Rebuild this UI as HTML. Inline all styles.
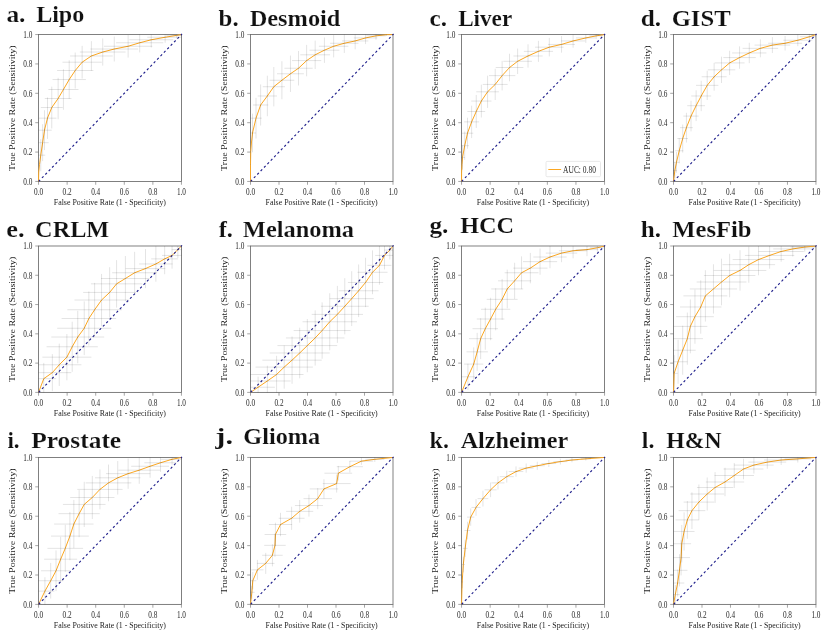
<!DOCTYPE html>
<html><head><meta charset="utf-8"><title>ROC curves</title>
<style>
html,body{margin:0;padding:0;background:#fff;overflow:hidden;}
svg{display:block;will-change:transform;}
text{font-family:"Liberation Serif",serif;}
.tk{font-size:9.90px;fill:#2a2a2a;}
.lb{font-size:8.80px;fill:#222222;}
.ti{font-size:22.60px;font-weight:bold;fill:#111111;stroke:#fff;stroke-width:0.15px;}
</style></head><body>
<svg width="830" height="640" viewBox="0 0 830 640">
<rect x="0" y="0" width="830" height="640" fill="#ffffff"/>
<g>
<text class="ti" x="6.4" y="22" textLength="19.08" lengthAdjust="spacingAndGlyphs">a.</text>
<text class="ti" x="36.17" y="22" textLength="48.12" lengthAdjust="spacingAndGlyphs">Lipo</text>
<clipPath id="cp0"><rect x="38.55" y="34.55" width="142.9" height="146.9"/></clipPath>
<clipPath id="cq0"><rect x="38.1" y="34.1" width="143.8" height="147.8"/></clipPath>
<rect x="38.55" y="34.55" width="142.9" height="146.9" fill="none" stroke="#6a6a6a" stroke-width="0.85"/>
<polyline clip-path="url(#cq0)" points="38.55,181.45 38.74,172.06 39.5,164.42 40.77,155.18 42.62,142.69 44.47,130.2 47.48,118.17 51.75,107.54 58.11,98.52 63.43,89.5 69.2,79.56 75.21,70.54 82.15,62.21 91.39,55.97 102.72,52.04 114.28,49.03 128.14,46.26 139.7,42.79 151.26,39.78 165.13,37.24 176.68,35.39 181.45,34.55" fill="none" stroke="#fba722" stroke-width="1.0" stroke-linejoin="round" stroke-linecap="round"/>
<path d="M38.55 181.45L182.01 33.98" stroke="#20208c" stroke-width="1.15" stroke-dasharray="2.3 2.558" fill="none"/>
<g clip-path="url(#cp0)" stroke="#000" stroke-opacity="0.125" stroke-width="0.9" fill="none"><path d="M36.31 155.18H45.24"/><path d="M40.77 139.13V171.22"/><path d="M36.57 142.69H48.68"/><path d="M42.62 124.24V161.14"/><path d="M37.16 130.2H51.78"/><path d="M44.47 110.25V150.15"/><path d="M38.49 118.17H56.47"/><path d="M47.48 97.44V138.91"/><path d="M40.8 107.54H62.71"/><path d="M51.75 86.6V128.47"/><path d="M44.75 98.52H71.46"/><path d="M58.11 77.76V119.28"/><path d="M48.37 89.5H78.48"/><path d="M63.43 69.24V109.76"/><path d="M52.53 79.56H85.88"/><path d="M69.2 60.26V98.86"/><path d="M57.05 70.54H93.38"/><path d="M75.21 52.53V88.54"/><path d="M62.49 62.21H101.81"/><path d="M82.15 45.84V78.58"/><path d="M70.07 55.97H112.72"/><path d="M91.39 41.19V70.74"/><path d="M79.84 52.04H125.6"/><path d="M102.72 38.48V65.6"/><path d="M90.4 49.03H138.15"/><path d="M114.28 36.55V61.51"/><path d="M103.93 46.26H152.35"/><path d="M128.14 34.92V57.59"/><path d="M116.1 42.79H163.31"/><path d="M139.7 33.16V52.42"/><path d="M129.31 39.78H173.2"/><path d="M151.26 32.02V47.54"/><path d="M147.32 37.24H182.93"/><path d="M165.13 31.63V42.85"/><path d="M166.3 35.39H187.07"/><path d="M176.68 32.24V38.54"/></g>
<text class="tk" x="38.55" y="195.05" text-anchor="middle" textLength="9.1" lengthAdjust="spacingAndGlyphs">0.0</text><text class="tk" x="32.45" y="184.8" text-anchor="end" textLength="9.1" lengthAdjust="spacingAndGlyphs">0.0</text>
<text class="tk" x="67.13" y="195.05" text-anchor="middle" textLength="9.1" lengthAdjust="spacingAndGlyphs">0.2</text><text class="tk" x="32.45" y="155.42" text-anchor="end" textLength="9.1" lengthAdjust="spacingAndGlyphs">0.2</text>
<text class="tk" x="95.71" y="195.05" text-anchor="middle" textLength="9.1" lengthAdjust="spacingAndGlyphs">0.4</text><text class="tk" x="32.45" y="126.04" text-anchor="end" textLength="9.1" lengthAdjust="spacingAndGlyphs">0.4</text>
<text class="tk" x="124.29" y="195.05" text-anchor="middle" textLength="9.1" lengthAdjust="spacingAndGlyphs">0.6</text><text class="tk" x="32.45" y="96.66" text-anchor="end" textLength="9.1" lengthAdjust="spacingAndGlyphs">0.6</text>
<text class="tk" x="152.87" y="195.05" text-anchor="middle" textLength="9.1" lengthAdjust="spacingAndGlyphs">0.8</text><text class="tk" x="32.45" y="67.28" text-anchor="end" textLength="9.1" lengthAdjust="spacingAndGlyphs">0.8</text>
<text class="tk" x="181.45" y="195.05" text-anchor="middle" textLength="9.1" lengthAdjust="spacingAndGlyphs">1.0</text><text class="tk" x="32.45" y="37.9" text-anchor="end" textLength="9.1" lengthAdjust="spacingAndGlyphs">1.0</text>
<path d="M38.55 181.45v3.3M38.55 181.45h-3.3M67.13 181.45v3.3M38.55 152.07h-3.3M95.71 181.45v3.3M38.55 122.69h-3.3M124.29 181.45v3.3M38.55 93.31h-3.3M152.87 181.45v3.3M38.55 63.93h-3.3M181.45 181.45v3.3M38.55 34.55h-3.3" stroke="#6a6a6a" stroke-width="0.6" fill="none"/>
<text class="lb" x="109.9" y="204.65" text-anchor="middle" textLength="112.2" lengthAdjust="spacingAndGlyphs">False Positive Rate (1 - Specificity)</text>
<text class="lb" style="font-size:8.3px" transform="translate(14.95 108.15) rotate(-90)" text-anchor="middle" textLength="125.5" lengthAdjust="spacingAndGlyphs">True Positive Rate (Sensitivity)</text>
</g>
<g>
<text class="ti" x="218.6" y="26" textLength="20.02" lengthAdjust="spacingAndGlyphs">b.</text>
<text class="ti" x="249.71" y="26" textLength="90.74" lengthAdjust="spacingAndGlyphs">Desmoid</text>
<clipPath id="cp1"><rect x="250.5" y="34.55" width="142.5" height="146.9"/></clipPath>
<clipPath id="cq1"><rect x="250.05" y="34.1" width="143.4" height="147.8"/></clipPath>
<rect x="250.5" y="34.55" width="142.5" height="146.9" fill="none" stroke="#6a6a6a" stroke-width="0.85"/>
<polyline clip-path="url(#cq1)" points="250.5,181.45 250.51,164.42 250.74,151.47 251.5,141.99 252.5,132.97 256.01,118.17 260.63,104.99 267.34,95.97 273.81,86.72 281.9,80.25 290.45,73.78 298.54,68.22 306.63,60.59 315.18,54.81 324.43,50.19 333.67,46.26 344.3,43.25 355.17,40.94 365.57,37.93 375.97,35.85 386.37,34.69 393,34.55" fill="none" stroke="#fba722" stroke-width="1.0" stroke-linejoin="round" stroke-linecap="round"/>
<path d="M250.5 181.45L393.56 33.98" stroke="#20208c" stroke-width="1.15" stroke-dasharray="2.3 2.551" fill="none"/>
<g clip-path="url(#cp1)" stroke="#000" stroke-opacity="0.125" stroke-width="0.9" fill="none"><path d="M248.98 132.97H256.01"/><path d="M252.5 113.63V152.32"/><path d="M250.24 118.17H261.78"/><path d="M256.01 97.81V138.54"/><path d="M252.94 104.99H268.32"/><path d="M260.63 84.44V125.54"/><path d="M257.68 95.97H276.99"/><path d="M267.34 75.69V116.26"/><path d="M262.74 86.72H284.88"/><path d="M273.81 67.04V106.41"/><path d="M269.49 80.25H294.3"/><path d="M281.9 61.21V99.29"/><path d="M277.01 73.78H303.89"/><path d="M290.45 55.58V91.97"/><path d="M284.39 68.22H312.69"/><path d="M298.54 50.94V85.51"/><path d="M292.01 60.59H321.25"/><path d="M306.63 44.88V76.3"/><path d="M300.28 54.81H330.08"/><path d="M315.18 40.63V69"/><path d="M309.48 50.19H339.38"/><path d="M324.43 37.5V62.87"/><path d="M318.92 46.26H348.42"/><path d="M333.67 35.12V57.4"/><path d="M330.11 43.25H358.5"/><path d="M344.3 33.54V52.96"/><path d="M341.95 40.94H368.38"/><path d="M355.17 32.55V49.33"/><path d="M353.77 37.93H377.37"/><path d="M365.57 31.76V44.1"/><path d="M366.26 35.85H385.68"/><path d="M375.97 32V39.7"/><path d="M380.07 34.69H392.67"/><path d="M386.37 33.41V35.98"/></g>
<text class="tk" x="250.5" y="195.05" text-anchor="middle" textLength="9.1" lengthAdjust="spacingAndGlyphs">0.0</text><text class="tk" x="244.4" y="184.8" text-anchor="end" textLength="9.1" lengthAdjust="spacingAndGlyphs">0.0</text>
<text class="tk" x="279" y="195.05" text-anchor="middle" textLength="9.1" lengthAdjust="spacingAndGlyphs">0.2</text><text class="tk" x="244.4" y="155.42" text-anchor="end" textLength="9.1" lengthAdjust="spacingAndGlyphs">0.2</text>
<text class="tk" x="307.5" y="195.05" text-anchor="middle" textLength="9.1" lengthAdjust="spacingAndGlyphs">0.4</text><text class="tk" x="244.4" y="126.04" text-anchor="end" textLength="9.1" lengthAdjust="spacingAndGlyphs">0.4</text>
<text class="tk" x="336" y="195.05" text-anchor="middle" textLength="9.1" lengthAdjust="spacingAndGlyphs">0.6</text><text class="tk" x="244.4" y="96.66" text-anchor="end" textLength="9.1" lengthAdjust="spacingAndGlyphs">0.6</text>
<text class="tk" x="364.5" y="195.05" text-anchor="middle" textLength="9.1" lengthAdjust="spacingAndGlyphs">0.8</text><text class="tk" x="244.4" y="67.28" text-anchor="end" textLength="9.1" lengthAdjust="spacingAndGlyphs">0.8</text>
<text class="tk" x="393" y="195.05" text-anchor="middle" textLength="9.1" lengthAdjust="spacingAndGlyphs">1.0</text><text class="tk" x="244.4" y="37.9" text-anchor="end" textLength="9.1" lengthAdjust="spacingAndGlyphs">1.0</text>
<path d="M250.5 181.45v3.3M250.5 181.45h-3.3M279 181.45v3.3M250.5 152.07h-3.3M307.5 181.45v3.3M250.5 122.69h-3.3M336 181.45v3.3M250.5 93.31h-3.3M364.5 181.45v3.3M250.5 63.93h-3.3M393 181.45v3.3M250.5 34.55h-3.3" stroke="#6a6a6a" stroke-width="0.6" fill="none"/>
<text class="lb" x="321.65" y="204.65" text-anchor="middle" textLength="112.2" lengthAdjust="spacingAndGlyphs">False Positive Rate (1 - Specificity)</text>
<text class="lb" style="font-size:8.3px" transform="translate(226.9 108.15) rotate(-90)" text-anchor="middle" textLength="125.5" lengthAdjust="spacingAndGlyphs">True Positive Rate (Sensitivity)</text>
</g>
<g>
<text class="ti" x="429.5" y="26" textLength="17.55" lengthAdjust="spacingAndGlyphs">c.</text>
<text class="ti" x="458.17" y="26" textLength="54.03" lengthAdjust="spacingAndGlyphs">Liver</text>
<clipPath id="cp2"><rect x="461.55" y="34.55" width="143" height="146.9"/></clipPath>
<clipPath id="cq2"><rect x="461.1" y="34.1" width="143.9" height="147.8"/></clipPath>
<rect x="461.55" y="34.55" width="143" height="146.9" fill="none" stroke="#6a6a6a" stroke-width="0.85"/>
<polyline clip-path="url(#cq2)" points="461.55,181.45 461.6,172.06 461.99,164.42 462.5,157.49 464.7,145.69 467.47,133.21 471.63,121.88 476.26,111.47 481.34,101.06 487.58,91.81 495.21,84.41 502.14,75.62 509.54,67.53 517.63,61.29 528.03,55.97 538.43,51.34 549.3,47.18 561.55,44.41 573.1,40.94 585.82,37.93 596.22,35.85 604.55,34.55" fill="none" stroke="#fba722" stroke-width="1.0" stroke-linejoin="round" stroke-linecap="round"/>
<path d="M461.55 181.45L605.11 33.98" stroke="#20208c" stroke-width="1.15" stroke-dasharray="2.3 2.560" fill="none"/>
<g clip-path="url(#cp2)" stroke="#000" stroke-opacity="0.125" stroke-width="0.9" fill="none"><path d="M460.12 157.49H464.89"/><path d="M462.5 145.28V169.7"/><path d="M460.4 145.69H469"/><path d="M464.7 131.51V159.88"/><path d="M461.63 133.21H473.31"/><path d="M467.47 117.68V148.73"/><path d="M464.13 121.88H479.14"/><path d="M471.63 105.65V138.1"/><path d="M467.35 111.47H485.16"/><path d="M476.26 94.96V127.98"/><path d="M471.22 101.06H491.46"/><path d="M481.34 84.61V117.51"/><path d="M476.27 91.81H498.89"/><path d="M487.58 75.69V107.93"/><path d="M482.77 84.41H507.65"/><path d="M495.21 68.76V100.06"/><path d="M488.93 75.62H515.36"/><path d="M502.14 60.79V90.46"/><path d="M495.7 67.53H523.38"/><path d="M509.54 53.74V81.32"/><path d="M503.32 61.29H531.94"/><path d="M517.63 48.53V74.04"/><path d="M513.41 55.97H542.65"/><path d="M528.03 44.3V67.63"/><path d="M523.82 51.34H553.05"/><path d="M538.43 40.83V61.86"/><path d="M535.02 47.18H563.57"/><path d="M549.3 37.92V56.45"/><path d="M548.1 44.41H574.99"/><path d="M561.55 36.14V52.68"/><path d="M560.96 40.94H585.24"/><path d="M573.1 34.2V47.68"/><path d="M575.92 37.93H595.71"/><path d="M585.82 32.97V42.89"/><path d="M589.35 35.85H603.08"/><path d="M596.22 32.75V38.95"/></g>
<rect x="546.0" y="161.4" width="54.5" height="15.3" rx="1.1" ry="1.1" fill="#fff" fill-opacity="0.8" stroke="#e2e2e2" stroke-width="0.8"/>
<path d="M548.3 169.5H561.1" stroke="#fba722" stroke-width="1.0"/>
<text class="tk" x="563.1" y="172.6" textLength="32.8" lengthAdjust="spacingAndGlyphs">AUC: 0.80</text>
<text class="tk" x="461.55" y="195.05" text-anchor="middle" textLength="9.1" lengthAdjust="spacingAndGlyphs">0.0</text><text class="tk" x="455.45" y="184.8" text-anchor="end" textLength="9.1" lengthAdjust="spacingAndGlyphs">0.0</text>
<text class="tk" x="490.15" y="195.05" text-anchor="middle" textLength="9.1" lengthAdjust="spacingAndGlyphs">0.2</text><text class="tk" x="455.45" y="155.42" text-anchor="end" textLength="9.1" lengthAdjust="spacingAndGlyphs">0.2</text>
<text class="tk" x="518.75" y="195.05" text-anchor="middle" textLength="9.1" lengthAdjust="spacingAndGlyphs">0.4</text><text class="tk" x="455.45" y="126.04" text-anchor="end" textLength="9.1" lengthAdjust="spacingAndGlyphs">0.4</text>
<text class="tk" x="547.35" y="195.05" text-anchor="middle" textLength="9.1" lengthAdjust="spacingAndGlyphs">0.6</text><text class="tk" x="455.45" y="96.66" text-anchor="end" textLength="9.1" lengthAdjust="spacingAndGlyphs">0.6</text>
<text class="tk" x="575.95" y="195.05" text-anchor="middle" textLength="9.1" lengthAdjust="spacingAndGlyphs">0.8</text><text class="tk" x="455.45" y="67.28" text-anchor="end" textLength="9.1" lengthAdjust="spacingAndGlyphs">0.8</text>
<text class="tk" x="604.55" y="195.05" text-anchor="middle" textLength="9.1" lengthAdjust="spacingAndGlyphs">1.0</text><text class="tk" x="455.45" y="37.9" text-anchor="end" textLength="9.1" lengthAdjust="spacingAndGlyphs">1.0</text>
<path d="M461.55 181.45v3.3M461.55 181.45h-3.3M490.15 181.45v3.3M461.55 152.07h-3.3M518.75 181.45v3.3M461.55 122.69h-3.3M547.35 181.45v3.3M461.55 93.31h-3.3M575.95 181.45v3.3M461.55 63.93h-3.3M604.55 181.45v3.3M461.55 34.55h-3.3" stroke="#6a6a6a" stroke-width="0.6" fill="none"/>
<text class="lb" x="532.95" y="204.65" text-anchor="middle" textLength="112.2" lengthAdjust="spacingAndGlyphs">False Positive Rate (1 - Specificity)</text>
<text class="lb" style="font-size:8.3px" transform="translate(437.95 108.15) rotate(-90)" text-anchor="middle" textLength="125.5" lengthAdjust="spacingAndGlyphs">True Positive Rate (Sensitivity)</text>
</g>
<g>
<text class="ti" x="640.78" y="26" textLength="20.41" lengthAdjust="spacingAndGlyphs">d.</text>
<text class="ti" x="671.68" y="26" textLength="59" lengthAdjust="spacingAndGlyphs">GIST</text>
<clipPath id="cp3"><rect x="673.5" y="34.55" width="142.45" height="146.9"/></clipPath>
<clipPath id="cq3"><rect x="673.05" y="34.1" width="143.35" height="147.8"/></clipPath>
<rect x="673.5" y="34.55" width="142.45" height="146.9" fill="none" stroke="#6a6a6a" stroke-width="0.85"/>
<polyline clip-path="url(#cq3)" points="673.5,181.45 674.85,170.44 676.47,162.34 679.24,150.78 682.71,138.52 686.41,127.66 691.03,116.09 696.11,105.69 701.2,95.97 707.21,85.34 714.14,76.78 721.54,69.84 729.63,62.91 739.57,57.59 749.28,52.96 760.37,48.34 772.39,45.1 785.1,43.25 797.82,40.24 809.37,36.77 815.95,34.55" fill="none" stroke="#fba722" stroke-width="1.0" stroke-linejoin="round" stroke-linecap="round"/>
<path d="M673.5 181.45L816.51 33.98" stroke="#20208c" stroke-width="1.15" stroke-dasharray="2.3 2.551" fill="none"/>
<g clip-path="url(#cp3)" stroke="#000" stroke-opacity="0.125" stroke-width="0.9" fill="none"><path d="M672.89 170.44H676.81"/><path d="M674.85 162.31V178.56"/><path d="M673.54 162.34H679.4"/><path d="M676.47 151.97V172.72"/><path d="M675.1 150.78H683.38"/><path d="M679.24 138.24V163.32"/><path d="M677.37 138.52H688.04"/><path d="M682.71 124.5V152.55"/><path d="M679.98 127.66H692.83"/><path d="M686.41 112.79V142.52"/><path d="M683.38 116.09H698.67"/><path d="M691.03 100.76V131.42"/><path d="M687.26 105.69H704.97"/><path d="M696.11 90.27V121.1"/><path d="M691.22 95.97H711.17"/><path d="M701.2 80.76V111.19"/><path d="M696.01 85.34H718.41"/><path d="M707.21 70.67V100.01"/><path d="M701.65 76.78H726.64"/><path d="M714.14 62.82V90.74"/><path d="M707.8 69.84H735.28"/><path d="M721.54 56.66V83.02"/><path d="M714.67 62.91H744.59"/><path d="M729.63 50.73V75.08"/><path d="M723.36 57.59H755.77"/><path d="M739.57 46.37V68.81"/><path d="M732.14 52.96H766.41"/><path d="M749.28 42.75V63.18"/><path d="M742.59 48.34H778.15"/><path d="M760.37 39.34V57.33"/><path d="M754.54 45.1H790.24"/><path d="M772.39 37.14V53.06"/><path d="M768.15 43.25H802.05"/><path d="M785.1 35.97V50.53"/><path d="M783.3 40.24H812.34"/><path d="M797.82 34.29V46.2"/><path d="M799.77 36.77H818.98"/><path d="M809.37 33.01V40.54"/></g>
<text class="tk" x="673.5" y="195.05" text-anchor="middle" textLength="9.1" lengthAdjust="spacingAndGlyphs">0.0</text><text class="tk" x="667.4" y="184.8" text-anchor="end" textLength="9.1" lengthAdjust="spacingAndGlyphs">0.0</text>
<text class="tk" x="701.99" y="195.05" text-anchor="middle" textLength="9.1" lengthAdjust="spacingAndGlyphs">0.2</text><text class="tk" x="667.4" y="155.42" text-anchor="end" textLength="9.1" lengthAdjust="spacingAndGlyphs">0.2</text>
<text class="tk" x="730.48" y="195.05" text-anchor="middle" textLength="9.1" lengthAdjust="spacingAndGlyphs">0.4</text><text class="tk" x="667.4" y="126.04" text-anchor="end" textLength="9.1" lengthAdjust="spacingAndGlyphs">0.4</text>
<text class="tk" x="758.97" y="195.05" text-anchor="middle" textLength="9.1" lengthAdjust="spacingAndGlyphs">0.6</text><text class="tk" x="667.4" y="96.66" text-anchor="end" textLength="9.1" lengthAdjust="spacingAndGlyphs">0.6</text>
<text class="tk" x="787.46" y="195.05" text-anchor="middle" textLength="9.1" lengthAdjust="spacingAndGlyphs">0.8</text><text class="tk" x="667.4" y="67.28" text-anchor="end" textLength="9.1" lengthAdjust="spacingAndGlyphs">0.8</text>
<text class="tk" x="815.95" y="195.05" text-anchor="middle" textLength="9.1" lengthAdjust="spacingAndGlyphs">1.0</text><text class="tk" x="667.4" y="37.9" text-anchor="end" textLength="9.1" lengthAdjust="spacingAndGlyphs">1.0</text>
<path d="M673.5 181.45v3.3M673.5 181.45h-3.3M701.99 181.45v3.3M673.5 152.07h-3.3M730.48 181.45v3.3M673.5 122.69h-3.3M758.97 181.45v3.3M673.5 93.31h-3.3M787.46 181.45v3.3M673.5 63.93h-3.3M815.95 181.45v3.3M673.5 34.55h-3.3" stroke="#6a6a6a" stroke-width="0.6" fill="none"/>
<text class="lb" x="744.62" y="204.65" text-anchor="middle" textLength="112.2" lengthAdjust="spacingAndGlyphs">False Positive Rate (1 - Specificity)</text>
<text class="lb" style="font-size:8.3px" transform="translate(649.9 108.15) rotate(-90)" text-anchor="middle" textLength="125.5" lengthAdjust="spacingAndGlyphs">True Positive Rate (Sensitivity)</text>
</g>
<g>
<text class="ti" x="6.22" y="237" textLength="18.31" lengthAdjust="spacingAndGlyphs">e.</text>
<text class="ti" x="35.14" y="237" textLength="74.08" lengthAdjust="spacingAndGlyphs">CRLM</text>
<clipPath id="cp4"><rect x="38.55" y="246" width="142.9" height="146.4"/></clipPath>
<clipPath id="cq4"><rect x="38.1" y="245.55" width="143.8" height="147.3"/></clipPath>
<rect x="38.55" y="246" width="142.9" height="146.4" fill="none" stroke="#6a6a6a" stroke-width="0.85"/>
<polyline clip-path="url(#cq4)" points="38.55,392.4 43.78,378.66 52.33,372.65 59.26,364.79 66.89,357.16 72.21,346.75 77.76,337.04 84.23,328.25 88.85,318.54 94.63,309.75 101.56,300.04 109.65,292.41 116.59,283.85 125.37,278.53 134.62,272.75 145.48,268.59 155.88,263.96 164.66,258.88 172.06,255.41 177.84,249.62 181.45,246" fill="none" stroke="#fba722" stroke-width="1.0" stroke-linejoin="round" stroke-linecap="round"/>
<path d="M38.55 392.4L182.01 245.43" stroke="#20208c" stroke-width="1.15" stroke-dasharray="2.3 2.550" fill="none"/>
<g clip-path="url(#cp4)" stroke="#000" stroke-opacity="0.125" stroke-width="0.9" fill="none"><path d="M31.37 378.66H56.19"/><path d="M43.78 362.87V394.46"/><path d="M33.32 372.65H71.34"/><path d="M52.33 354.15V391.15"/><path d="M37.08 364.79H81.45"/><path d="M59.26 343.6V385.98"/><path d="M42.37 357.16H91.41"/><path d="M66.89 334V380.31"/><path d="M46.57 346.75H97.85"/><path d="M72.21 321.66V371.84"/><path d="M51.29 337.04H104.22"/><path d="M77.76 310.77V363.31"/><path d="M57.17 328.25H111.29"/><path d="M84.23 301.37V355.13"/><path d="M61.58 318.54H116.12"/><path d="M88.85 291.45V345.62"/><path d="M67.31 309.75H121.95"/><path d="M94.63 282.89V336.61"/><path d="M74.47 300.04H128.65"/><path d="M101.56 273.9V326.18"/><path d="M83.18 292.41H136.12"/><path d="M109.65 267.2V317.61"/><path d="M90.92 283.85H142.26"/><path d="M116.59 260.13V307.57"/><path d="M101.05 278.53H149.69"/><path d="M125.37 256.01V301.05"/><path d="M112.11 272.75H157.12"/><path d="M134.62 251.82V293.68"/><path d="M125.61 268.59H165.35"/><path d="M145.48 249.02V288.15"/><path d="M139.13 263.96H172.63"/><path d="M155.88 246.19V281.73"/><path d="M151.16 258.88H178.17"/><path d="M164.66 243.53V274.22"/><path d="M162.04 255.41H182.09"/><path d="M172.06 242.12V268.69"/><path d="M171.67 249.62H184.01"/><path d="M177.84 241.21V258.04"/></g>
<text class="tk" x="38.55" y="406" text-anchor="middle" textLength="9.1" lengthAdjust="spacingAndGlyphs">0.0</text><text class="tk" x="32.45" y="395.75" text-anchor="end" textLength="9.1" lengthAdjust="spacingAndGlyphs">0.0</text>
<text class="tk" x="67.13" y="406" text-anchor="middle" textLength="9.1" lengthAdjust="spacingAndGlyphs">0.2</text><text class="tk" x="32.45" y="366.47" text-anchor="end" textLength="9.1" lengthAdjust="spacingAndGlyphs">0.2</text>
<text class="tk" x="95.71" y="406" text-anchor="middle" textLength="9.1" lengthAdjust="spacingAndGlyphs">0.4</text><text class="tk" x="32.45" y="337.19" text-anchor="end" textLength="9.1" lengthAdjust="spacingAndGlyphs">0.4</text>
<text class="tk" x="124.29" y="406" text-anchor="middle" textLength="9.1" lengthAdjust="spacingAndGlyphs">0.6</text><text class="tk" x="32.45" y="307.91" text-anchor="end" textLength="9.1" lengthAdjust="spacingAndGlyphs">0.6</text>
<text class="tk" x="152.87" y="406" text-anchor="middle" textLength="9.1" lengthAdjust="spacingAndGlyphs">0.8</text><text class="tk" x="32.45" y="278.63" text-anchor="end" textLength="9.1" lengthAdjust="spacingAndGlyphs">0.8</text>
<text class="tk" x="181.45" y="406" text-anchor="middle" textLength="9.1" lengthAdjust="spacingAndGlyphs">1.0</text><text class="tk" x="32.45" y="249.35" text-anchor="end" textLength="9.1" lengthAdjust="spacingAndGlyphs">1.0</text>
<path d="M38.55 392.4v3.3M38.55 392.4h-3.3M67.13 392.4v3.3M38.55 363.12h-3.3M95.71 392.4v3.3M38.55 333.84h-3.3M124.29 392.4v3.3M38.55 304.56h-3.3M152.87 392.4v3.3M38.55 275.28h-3.3M181.45 392.4v3.3M38.55 246h-3.3" stroke="#6a6a6a" stroke-width="0.6" fill="none"/>
<text class="lb" x="109.9" y="415.6" text-anchor="middle" textLength="112.2" lengthAdjust="spacingAndGlyphs">False Positive Rate (1 - Specificity)</text>
<text class="lb" style="font-size:8.3px" transform="translate(14.95 319.35) rotate(-90)" text-anchor="middle" textLength="125.5" lengthAdjust="spacingAndGlyphs">True Positive Rate (Sensitivity)</text>
</g>
<g>
<text class="ti" x="218.73" y="237" textLength="14.19" lengthAdjust="spacingAndGlyphs">f.</text>
<text class="ti" x="242.89" y="237" textLength="111.2" lengthAdjust="spacingAndGlyphs">Melanoma</text>
<clipPath id="cp5"><rect x="250.5" y="246" width="142.5" height="146.4"/></clipPath>
<clipPath id="cq5"><rect x="250.05" y="245.55" width="143.4" height="147.3"/></clipPath>
<rect x="250.5" y="246" width="142.5" height="146.4" fill="none" stroke="#6a6a6a" stroke-width="0.85"/>
<polyline clip-path="url(#cq5)" points="250.5,392.4 258.09,387.22 267.34,380.98 276.58,374.5 284.21,367.1 292.07,360.16 299.7,352.99 307.32,345.59 315.18,337.96 322.12,330.56 329.74,321.77 337.37,314.38 344.77,306.28 351.7,298.65 358.64,290.79 365.57,282.46 372.5,272.29 379.44,265.35 384.52,255.41 389.84,250.09 393,246" fill="none" stroke="#fba722" stroke-width="1.0" stroke-linejoin="round" stroke-linecap="round"/>
<path d="M250.5 392.4L393.56 245.43" stroke="#20208c" stroke-width="1.15" stroke-dasharray="2.3 2.543" fill="none"/>
<g clip-path="url(#cp5)" stroke="#000" stroke-opacity="0.125" stroke-width="0.9" fill="none"><path d="M241.29 387.22H274.89"/><path d="M258.09 376.67V397.77"/><path d="M244.02 380.98H290.65"/><path d="M267.34 365.66V396.29"/><path d="M249.65 374.5H303.51"/><path d="M276.58 355.8V393.2"/><path d="M255.52 367.1H312.9"/><path d="M284.21 345.51V388.69"/><path d="M262.38 360.16H321.75"/><path d="M292.07 336.5V383.82"/><path d="M269.66 352.99H329.73"/><path d="M299.7 327.67V378.32"/><path d="M277.44 345.59H337.21"/><path d="M307.32 318.97V372.22"/><path d="M285.89 337.96H344.48"/><path d="M315.18 310.37V365.56"/><path d="M293.67 330.56H350.56"/><path d="M322.12 302.36V358.76"/><path d="M302.54 321.77H356.95"/><path d="M329.74 293.24V350.31"/><path d="M311.7 314.38H363.04"/><path d="M337.37 285.89V342.86"/><path d="M320.85 306.28H368.69"/><path d="M344.77 278.18V334.38"/><path d="M329.65 298.65H373.76"/><path d="M351.7 271.25V326.05"/><path d="M338.67 290.79H378.6"/><path d="M358.64 264.48V317.1"/><path d="M347.93 282.46H383.21"/><path d="M365.57 257.77V307.15"/><path d="M357.49 272.29H387.52"/><path d="M372.5 250.37V294.2"/><path d="M367.45 265.35H391.42"/><path d="M379.44 246.01V284.69"/><path d="M375.2 255.41H393.85"/><path d="M384.52 241.41V269.41"/><path d="M384.25 250.09H395.43"/><path d="M389.84 240.68V259.49"/></g>
<text class="tk" x="250.5" y="406" text-anchor="middle" textLength="9.1" lengthAdjust="spacingAndGlyphs">0.0</text><text class="tk" x="244.4" y="395.75" text-anchor="end" textLength="9.1" lengthAdjust="spacingAndGlyphs">0.0</text>
<text class="tk" x="279" y="406" text-anchor="middle" textLength="9.1" lengthAdjust="spacingAndGlyphs">0.2</text><text class="tk" x="244.4" y="366.47" text-anchor="end" textLength="9.1" lengthAdjust="spacingAndGlyphs">0.2</text>
<text class="tk" x="307.5" y="406" text-anchor="middle" textLength="9.1" lengthAdjust="spacingAndGlyphs">0.4</text><text class="tk" x="244.4" y="337.19" text-anchor="end" textLength="9.1" lengthAdjust="spacingAndGlyphs">0.4</text>
<text class="tk" x="336" y="406" text-anchor="middle" textLength="9.1" lengthAdjust="spacingAndGlyphs">0.6</text><text class="tk" x="244.4" y="307.91" text-anchor="end" textLength="9.1" lengthAdjust="spacingAndGlyphs">0.6</text>
<text class="tk" x="364.5" y="406" text-anchor="middle" textLength="9.1" lengthAdjust="spacingAndGlyphs">0.8</text><text class="tk" x="244.4" y="278.63" text-anchor="end" textLength="9.1" lengthAdjust="spacingAndGlyphs">0.8</text>
<text class="tk" x="393" y="406" text-anchor="middle" textLength="9.1" lengthAdjust="spacingAndGlyphs">1.0</text><text class="tk" x="244.4" y="249.35" text-anchor="end" textLength="9.1" lengthAdjust="spacingAndGlyphs">1.0</text>
<path d="M250.5 392.4v3.3M250.5 392.4h-3.3M279 392.4v3.3M250.5 363.12h-3.3M307.5 392.4v3.3M250.5 333.84h-3.3M336 392.4v3.3M250.5 304.56h-3.3M364.5 392.4v3.3M250.5 275.28h-3.3M393 392.4v3.3M250.5 246h-3.3" stroke="#6a6a6a" stroke-width="0.6" fill="none"/>
<text class="lb" x="321.65" y="415.6" text-anchor="middle" textLength="112.2" lengthAdjust="spacingAndGlyphs">False Positive Rate (1 - Specificity)</text>
<text class="lb" style="font-size:8.3px" transform="translate(226.9 319.35) rotate(-90)" text-anchor="middle" textLength="125.5" lengthAdjust="spacingAndGlyphs">True Positive Rate (Sensitivity)</text>
</g>
<g>
<text class="ti" x="429.43" y="233" textLength="18.96" lengthAdjust="spacingAndGlyphs">g.</text>
<text class="ti" x="460.25" y="233" textLength="53.9" lengthAdjust="spacingAndGlyphs">HCC</text>
<clipPath id="cp6"><rect x="461.55" y="246" width="143" height="146.4"/></clipPath>
<clipPath id="cq6"><rect x="461.1" y="245.55" width="143.9" height="147.3"/></clipPath>
<rect x="461.55" y="246" width="143" height="146.4" fill="none" stroke="#6a6a6a" stroke-width="0.85"/>
<polyline clip-path="url(#cq6)" points="461.55,392.4 467.93,376.81 473.71,364.09 477.18,351.84 480.65,338.66 485.27,328.71 490.59,319 495.67,309.29 502.14,299.34 507.23,288.94 514.62,280.84 521.56,272.75 530.34,268.12 540.05,261.65 549.99,257.02 561.55,253.09 573.1,250.78 586.97,249.62 597.37,247.78 604.55,246" fill="none" stroke="#fba722" stroke-width="1.0" stroke-linejoin="round" stroke-linecap="round"/>
<path d="M461.55 392.4L605.11 245.43" stroke="#20208c" stroke-width="1.15" stroke-dasharray="2.3 2.551" fill="none"/>
<g clip-path="url(#cp6)" stroke="#000" stroke-opacity="0.125" stroke-width="0.9" fill="none"><path d="M460.85 376.81H475.02"/><path d="M467.93 363.72V389.91"/><path d="M464.14 364.09H483.29"/><path d="M473.71 347.33V380.86"/><path d="M466.47 351.84H487.89"/><path d="M477.18 332.84V370.84"/><path d="M468.97 338.66H492.32"/><path d="M480.65 318.19V359.12"/><path d="M472.5 328.71H498.04"/><path d="M485.27 307.66V349.76"/><path d="M476.78 319H504.39"/><path d="M490.59 297.77V340.23"/><path d="M481.04 309.29H510.3"/><path d="M495.67 288.26V330.32"/><path d="M486.67 299.34H517.62"/><path d="M502.14 278.91V319.78"/><path d="M491.23 288.94H523.23"/><path d="M507.23 269.61V308.27"/><path d="M498.04 280.84H531.2"/><path d="M514.62 262.76V298.92"/><path d="M504.62 272.75H538.5"/><path d="M521.56 256.34V289.16"/><path d="M513.19 268.12H547.49"/><path d="M530.34 252.92V283.33"/><path d="M522.97 261.65H557.13"/><path d="M540.05 248.53V274.77"/><path d="M533.32 257.02H566.66"/><path d="M549.99 245.82V268.23"/><path d="M545.81 253.09H577.28"/><path d="M561.55 243.98V262.21"/><path d="M558.89 250.78H587.32"/><path d="M573.1 243.24V258.33"/><path d="M575.7 249.62H598.24"/><path d="M586.97 243.03V256.22"/><path d="M589.88 247.78H604.87"/><path d="M597.37 243.13V252.42"/></g>
<text class="tk" x="461.55" y="406" text-anchor="middle" textLength="9.1" lengthAdjust="spacingAndGlyphs">0.0</text><text class="tk" x="455.45" y="395.75" text-anchor="end" textLength="9.1" lengthAdjust="spacingAndGlyphs">0.0</text>
<text class="tk" x="490.15" y="406" text-anchor="middle" textLength="9.1" lengthAdjust="spacingAndGlyphs">0.2</text><text class="tk" x="455.45" y="366.47" text-anchor="end" textLength="9.1" lengthAdjust="spacingAndGlyphs">0.2</text>
<text class="tk" x="518.75" y="406" text-anchor="middle" textLength="9.1" lengthAdjust="spacingAndGlyphs">0.4</text><text class="tk" x="455.45" y="337.19" text-anchor="end" textLength="9.1" lengthAdjust="spacingAndGlyphs">0.4</text>
<text class="tk" x="547.35" y="406" text-anchor="middle" textLength="9.1" lengthAdjust="spacingAndGlyphs">0.6</text><text class="tk" x="455.45" y="307.91" text-anchor="end" textLength="9.1" lengthAdjust="spacingAndGlyphs">0.6</text>
<text class="tk" x="575.95" y="406" text-anchor="middle" textLength="9.1" lengthAdjust="spacingAndGlyphs">0.8</text><text class="tk" x="455.45" y="278.63" text-anchor="end" textLength="9.1" lengthAdjust="spacingAndGlyphs">0.8</text>
<text class="tk" x="604.55" y="406" text-anchor="middle" textLength="9.1" lengthAdjust="spacingAndGlyphs">1.0</text><text class="tk" x="455.45" y="249.35" text-anchor="end" textLength="9.1" lengthAdjust="spacingAndGlyphs">1.0</text>
<path d="M461.55 392.4v3.3M461.55 392.4h-3.3M490.15 392.4v3.3M461.55 363.12h-3.3M518.75 392.4v3.3M461.55 333.84h-3.3M547.35 392.4v3.3M461.55 304.56h-3.3M575.95 392.4v3.3M461.55 275.28h-3.3M604.55 392.4v3.3M461.55 246h-3.3" stroke="#6a6a6a" stroke-width="0.6" fill="none"/>
<text class="lb" x="532.95" y="415.6" text-anchor="middle" textLength="112.2" lengthAdjust="spacingAndGlyphs">False Positive Rate (1 - Specificity)</text>
<text class="lb" style="font-size:8.3px" transform="translate(437.95 319.35) rotate(-90)" text-anchor="middle" textLength="125.5" lengthAdjust="spacingAndGlyphs">True Positive Rate (Sensitivity)</text>
</g>
<g>
<text class="ti" x="640.87" y="237" textLength="20.29" lengthAdjust="spacingAndGlyphs">h.</text>
<text class="ti" x="672.26" y="237" textLength="79.32" lengthAdjust="spacingAndGlyphs">MesFib</text>
<clipPath id="cp7"><rect x="673.5" y="246" width="142.45" height="146.4"/></clipPath>
<clipPath id="cq7"><rect x="673.05" y="245.55" width="143.35" height="147.3"/></clipPath>
<rect x="673.5" y="246" width="142.45" height="146.4" fill="none" stroke="#6a6a6a" stroke-width="0.85"/>
<polyline clip-path="url(#cq7)" points="673.5,392.4 674.16,373.34 678.09,361.78 682.71,350.22 687.33,338.66 690.34,326.4 694.96,316.69 700.74,306.98 705.36,295.88 713.45,288.94 721.54,282 729.63,275.52 740.03,270.44 748.81,264.66 758.52,259.57 769.62,255.41 781.17,251.47 792.73,248.93 804.75,247.08 815.95,246" fill="none" stroke="#fba722" stroke-width="1.0" stroke-linejoin="round" stroke-linecap="round"/>
<path d="M673.5 392.4L816.51 245.43" stroke="#20208c" stroke-width="1.15" stroke-dasharray="2.3 2.542" fill="none"/>
<g clip-path="url(#cp7)" stroke="#000" stroke-opacity="0.125" stroke-width="0.9" fill="none"><path d="M670.59 373.34H677.72"/><path d="M674.16 355.12V391.57"/><path d="M668.78 361.78H687.39"/><path d="M678.09 339.75V383.81"/><path d="M669.75 350.22H695.67"/><path d="M682.71 325.69V374.75"/><path d="M671.73 338.66H702.94"/><path d="M687.33 312.55V364.77"/><path d="M673.32 326.4H707.35"/><path d="M690.34 299.45V353.35"/><path d="M676.11 316.69H713.81"/><path d="M694.96 289.62V343.76"/><path d="M680.01 306.98H721.46"/><path d="M700.74 280.27V333.68"/><path d="M683.4 295.88H727.32"/><path d="M705.36 270.2V321.55"/><path d="M689.77 288.94H737.13"/><path d="M713.45 264.28V313.6"/><path d="M696.62 282H746.46"/><path d="M721.54 258.67V305.33"/><path d="M703.87 275.52H755.38"/><path d="M729.63 253.79V297.26"/><path d="M713.73 270.44H766.33"/><path d="M740.03 250.24V290.64"/><path d="M722.5 264.66H775.12"/><path d="M748.81 246.59V282.72"/><path d="M732.67 259.57H784.38"/><path d="M758.52 243.86V275.28"/><path d="M744.92 255.41H794.31"/><path d="M769.62 242.12V268.69"/><path d="M758.53 251.47H803.81"/><path d="M781.17 241.2V261.75"/><path d="M773.26 248.93H812.2"/><path d="M792.73 241.34V256.52"/><path d="M790.56 247.08H818.94"/><path d="M804.75 242.44V251.72"/></g>
<text class="tk" x="673.5" y="406" text-anchor="middle" textLength="9.1" lengthAdjust="spacingAndGlyphs">0.0</text><text class="tk" x="667.4" y="395.75" text-anchor="end" textLength="9.1" lengthAdjust="spacingAndGlyphs">0.0</text>
<text class="tk" x="701.99" y="406" text-anchor="middle" textLength="9.1" lengthAdjust="spacingAndGlyphs">0.2</text><text class="tk" x="667.4" y="366.47" text-anchor="end" textLength="9.1" lengthAdjust="spacingAndGlyphs">0.2</text>
<text class="tk" x="730.48" y="406" text-anchor="middle" textLength="9.1" lengthAdjust="spacingAndGlyphs">0.4</text><text class="tk" x="667.4" y="337.19" text-anchor="end" textLength="9.1" lengthAdjust="spacingAndGlyphs">0.4</text>
<text class="tk" x="758.97" y="406" text-anchor="middle" textLength="9.1" lengthAdjust="spacingAndGlyphs">0.6</text><text class="tk" x="667.4" y="307.91" text-anchor="end" textLength="9.1" lengthAdjust="spacingAndGlyphs">0.6</text>
<text class="tk" x="787.46" y="406" text-anchor="middle" textLength="9.1" lengthAdjust="spacingAndGlyphs">0.8</text><text class="tk" x="667.4" y="278.63" text-anchor="end" textLength="9.1" lengthAdjust="spacingAndGlyphs">0.8</text>
<text class="tk" x="815.95" y="406" text-anchor="middle" textLength="9.1" lengthAdjust="spacingAndGlyphs">1.0</text><text class="tk" x="667.4" y="249.35" text-anchor="end" textLength="9.1" lengthAdjust="spacingAndGlyphs">1.0</text>
<path d="M673.5 392.4v3.3M673.5 392.4h-3.3M701.99 392.4v3.3M673.5 363.12h-3.3M730.48 392.4v3.3M673.5 333.84h-3.3M758.97 392.4v3.3M673.5 304.56h-3.3M787.46 392.4v3.3M673.5 275.28h-3.3M815.95 392.4v3.3M673.5 246h-3.3" stroke="#6a6a6a" stroke-width="0.6" fill="none"/>
<text class="lb" x="744.62" y="415.6" text-anchor="middle" textLength="112.2" lengthAdjust="spacingAndGlyphs">False Positive Rate (1 - Specificity)</text>
<text class="lb" style="font-size:8.3px" transform="translate(649.9 319.35) rotate(-90)" text-anchor="middle" textLength="125.5" lengthAdjust="spacingAndGlyphs">True Positive Rate (Sensitivity)</text>
</g>
<g>
<text class="ti" x="7.45" y="448" textLength="12.19" lengthAdjust="spacingAndGlyphs">i.</text>
<text class="ti" x="31.22" y="448" textLength="89.93" lengthAdjust="spacingAndGlyphs">Prostate</text>
<clipPath id="cp8"><rect x="38.55" y="457.45" width="142.9" height="146.95"/></clipPath>
<clipPath id="cq8"><rect x="38.1" y="457" width="143.8" height="147.85"/></clipPath>
<rect x="38.55" y="457.45" width="142.9" height="146.95" fill="none" stroke="#6a6a6a" stroke-width="0.85"/>
<polyline clip-path="url(#cq8)" points="38.55,604.4 44.93,591.12 50.71,580.72 56.03,570.77 60.65,559.21 65.27,548.34 69.9,536.09 73.83,524.06 79.14,513.66 84.23,504.41 92.32,497.47 99.95,489.38 108.5,482.9 117.74,477.81 128.14,473.65 139.24,470.18 150.1,466.25 160.5,462.78 172.06,459.31 181.45,457.45" fill="none" stroke="#fba722" stroke-width="1.0" stroke-linejoin="round" stroke-linecap="round"/>
<path d="M38.55 604.4L182.01 456.88" stroke="#20208c" stroke-width="1.15" stroke-dasharray="2.3 2.559" fill="none"/>
<g clip-path="url(#cp8)" stroke="#000" stroke-opacity="0.125" stroke-width="0.9" fill="none"><path d="M35.49 591.12H54.38"/><path d="M44.93 577.22V605.03"/><path d="M37.95 580.72H63.47"/><path d="M50.71 562.89V598.55"/><path d="M41.05 570.77H71.01"/><path d="M56.03 550.4V591.15"/><path d="M44.12 559.21H77.19"/><path d="M60.65 536.83V581.59"/><path d="M47.44 548.34H83.1"/><path d="M65.27 524.79V571.9"/><path d="M50.97 536.09H88.82"/><path d="M69.9 511.9V560.27"/><path d="M54.11 524.06H93.54"/><path d="M73.83 499.92V548.2"/><path d="M58.52 513.66H99.76"/><path d="M79.14 490.09V537.22"/><path d="M62.9 504.41H105.55"/><path d="M84.23 481.79V527.02"/><path d="M70.17 497.47H114.47"/><path d="M92.32 475.88V519.06"/><path d="M77.31 489.38H122.58"/><path d="M99.95 469.38V509.37"/><path d="M85.64 482.9H131.36"/><path d="M108.5 464.55V501.25"/><path d="M95.01 477.81H140.47"/><path d="M117.74 461.06V494.57"/><path d="M106.03 473.65H150.26"/><path d="M128.14 458.46V488.84"/><path d="M118.38 470.18H160.1"/><path d="M139.24 456.54V483.82"/><path d="M131.18 466.25H169.03"/><path d="M150.1 454.74V477.76"/><path d="M144.33 462.78H176.68"/><path d="M160.5 453.71V471.85"/><path d="M160.73 459.31H183.39"/><path d="M172.06 453.89V464.74"/></g>
<text class="tk" x="38.55" y="618" text-anchor="middle" textLength="9.1" lengthAdjust="spacingAndGlyphs">0.0</text><text class="tk" x="32.45" y="607.75" text-anchor="end" textLength="9.1" lengthAdjust="spacingAndGlyphs">0.0</text>
<text class="tk" x="67.13" y="618" text-anchor="middle" textLength="9.1" lengthAdjust="spacingAndGlyphs">0.2</text><text class="tk" x="32.45" y="578.36" text-anchor="end" textLength="9.1" lengthAdjust="spacingAndGlyphs">0.2</text>
<text class="tk" x="95.71" y="618" text-anchor="middle" textLength="9.1" lengthAdjust="spacingAndGlyphs">0.4</text><text class="tk" x="32.45" y="548.97" text-anchor="end" textLength="9.1" lengthAdjust="spacingAndGlyphs">0.4</text>
<text class="tk" x="124.29" y="618" text-anchor="middle" textLength="9.1" lengthAdjust="spacingAndGlyphs">0.6</text><text class="tk" x="32.45" y="519.58" text-anchor="end" textLength="9.1" lengthAdjust="spacingAndGlyphs">0.6</text>
<text class="tk" x="152.87" y="618" text-anchor="middle" textLength="9.1" lengthAdjust="spacingAndGlyphs">0.8</text><text class="tk" x="32.45" y="490.19" text-anchor="end" textLength="9.1" lengthAdjust="spacingAndGlyphs">0.8</text>
<text class="tk" x="181.45" y="618" text-anchor="middle" textLength="9.1" lengthAdjust="spacingAndGlyphs">1.0</text><text class="tk" x="32.45" y="460.8" text-anchor="end" textLength="9.1" lengthAdjust="spacingAndGlyphs">1.0</text>
<path d="M38.55 604.4v3.3M38.55 604.4h-3.3M67.13 604.4v3.3M38.55 575.01h-3.3M95.71 604.4v3.3M38.55 545.62h-3.3M124.29 604.4v3.3M38.55 516.23h-3.3M152.87 604.4v3.3M38.55 486.84h-3.3M181.45 604.4v3.3M38.55 457.45h-3.3" stroke="#6a6a6a" stroke-width="0.6" fill="none"/>
<text class="lb" x="109.9" y="627.6" text-anchor="middle" textLength="112.2" lengthAdjust="spacingAndGlyphs">False Positive Rate (1 - Specificity)</text>
<text class="lb" style="font-size:8.3px" transform="translate(14.95 531.07) rotate(-90)" text-anchor="middle" textLength="125.5" lengthAdjust="spacingAndGlyphs">True Positive Rate (Sensitivity)</text>
</g>
<g>
<text class="ti" x="215.35" y="444" textLength="17.78" lengthAdjust="spacingAndGlyphs">j.</text>
<text class="ti" x="243.27" y="444" textLength="76.93" lengthAdjust="spacingAndGlyphs">Glioma</text>
<clipPath id="cp9"><rect x="250.5" y="457.45" width="142.5" height="146.95"/></clipPath>
<clipPath id="cq9"><rect x="250.05" y="457" width="143.4" height="147.85"/></clipPath>
<rect x="250.5" y="457.45" width="142.5" height="146.95" fill="none" stroke="#6a6a6a" stroke-width="0.85"/>
<polyline clip-path="url(#cq9)" points="250.5,604.4 251.85,592.28 252.77,580.72 257.4,569.85 265.72,563.38 272.42,555.28 274.96,545.34 275.43,534.47 280.51,524.52 291.61,518.28 299.7,511.34 308.94,505.56 317.72,498.62 323.96,488.91 336.68,483.59 338.3,473.19 349.85,466.71 361.41,461.16 374.82,459.31 393,457.45" fill="none" stroke="#fba722" stroke-width="1.0" stroke-linejoin="round" stroke-linecap="round"/>
<path d="M250.5 604.4L393.56 456.88" stroke="#20208c" stroke-width="1.15" stroke-dasharray="2.3 2.552" fill="none"/>
<g clip-path="url(#cp9)" stroke="#000" stroke-opacity="0.125" stroke-width="0.9" fill="none"><path d="M249.09 592.28H254.61"/><path d="M251.85 585.81V598.75"/><path d="M249.2 580.72H256.34"/><path d="M252.77 572.07V589.36"/><path d="M251.28 569.85H263.51"/><path d="M257.4 559.88V579.82"/><path d="M256.92 563.38H274.52"/><path d="M265.72 552.83V573.92"/><path d="M262.14 555.28H282.7"/><path d="M272.42 544.19V566.37"/><path d="M264.22 545.34H285.71"/><path d="M274.96 533.81V556.87"/><path d="M264.6 534.47H286.25"/><path d="M275.43 522.73V546.21"/><path d="M268.89 524.52H292.13"/><path d="M280.51 512.81V536.24"/><path d="M278.69 518.28H304.52"/><path d="M291.61 506.7V529.86"/><path d="M286.14 511.34H313.25"/><path d="M299.7 500.01V522.67"/><path d="M294.92 505.56H322.96"/><path d="M308.94 494.53V516.6"/><path d="M303.5 498.62H331.95"/><path d="M317.72 488.07V509.18"/><path d="M309.72 488.91H338.21"/><path d="M323.96 479.27V498.56"/><path d="M322.74 483.59H350.61"/><path d="M336.68 474.6V492.59"/><path d="M324.43 473.19H352.16"/><path d="M338.3 465.92V480.46"/><path d="M336.76 466.71H362.95"/><path d="M349.85 461V472.43"/><path d="M349.57 461.16H373.25"/><path d="M361.41 457.47V464.85"/><path d="M365.31 459.31H384.32"/><path d="M374.82 456.68V461.94"/></g>
<text class="tk" x="250.5" y="618" text-anchor="middle" textLength="9.1" lengthAdjust="spacingAndGlyphs">0.0</text><text class="tk" x="244.4" y="607.75" text-anchor="end" textLength="9.1" lengthAdjust="spacingAndGlyphs">0.0</text>
<text class="tk" x="279" y="618" text-anchor="middle" textLength="9.1" lengthAdjust="spacingAndGlyphs">0.2</text><text class="tk" x="244.4" y="578.36" text-anchor="end" textLength="9.1" lengthAdjust="spacingAndGlyphs">0.2</text>
<text class="tk" x="307.5" y="618" text-anchor="middle" textLength="9.1" lengthAdjust="spacingAndGlyphs">0.4</text><text class="tk" x="244.4" y="548.97" text-anchor="end" textLength="9.1" lengthAdjust="spacingAndGlyphs">0.4</text>
<text class="tk" x="336" y="618" text-anchor="middle" textLength="9.1" lengthAdjust="spacingAndGlyphs">0.6</text><text class="tk" x="244.4" y="519.58" text-anchor="end" textLength="9.1" lengthAdjust="spacingAndGlyphs">0.6</text>
<text class="tk" x="364.5" y="618" text-anchor="middle" textLength="9.1" lengthAdjust="spacingAndGlyphs">0.8</text><text class="tk" x="244.4" y="490.19" text-anchor="end" textLength="9.1" lengthAdjust="spacingAndGlyphs">0.8</text>
<text class="tk" x="393" y="618" text-anchor="middle" textLength="9.1" lengthAdjust="spacingAndGlyphs">1.0</text><text class="tk" x="244.4" y="460.8" text-anchor="end" textLength="9.1" lengthAdjust="spacingAndGlyphs">1.0</text>
<path d="M250.5 604.4v3.3M250.5 604.4h-3.3M279 604.4v3.3M250.5 575.01h-3.3M307.5 604.4v3.3M250.5 545.62h-3.3M336 604.4v3.3M250.5 516.23h-3.3M364.5 604.4v3.3M250.5 486.84h-3.3M393 604.4v3.3M250.5 457.45h-3.3" stroke="#6a6a6a" stroke-width="0.6" fill="none"/>
<text class="lb" x="321.65" y="627.6" text-anchor="middle" textLength="112.2" lengthAdjust="spacingAndGlyphs">False Positive Rate (1 - Specificity)</text>
<text class="lb" style="font-size:8.3px" transform="translate(226.9 531.07) rotate(-90)" text-anchor="middle" textLength="125.5" lengthAdjust="spacingAndGlyphs">True Positive Rate (Sensitivity)</text>
</g>
<g>
<text class="ti" x="429.62" y="448" textLength="19.3" lengthAdjust="spacingAndGlyphs">k.</text>
<text class="ti" x="460.65" y="448" textLength="107.51" lengthAdjust="spacingAndGlyphs">Alzheimer</text>
<clipPath id="cp10"><rect x="461.55" y="457.45" width="143" height="146.95"/></clipPath>
<clipPath id="cq10"><rect x="461.1" y="457" width="143.9" height="147.85"/></clipPath>
<rect x="461.55" y="457.45" width="143" height="146.95" fill="none" stroke="#6a6a6a" stroke-width="0.85"/>
<polyline clip-path="url(#cq10)" points="461.55,604.4 462.16,581.88 463.31,564.53 465.16,548.34 467.47,530.54 470.71,517.12 476.02,507.41 482.96,498.62 490.59,489.84 497.98,482.9 506.77,476.66 516.01,471.57 526.18,468.1 537.28,465.79 548.83,463.48 560.39,461.62 571.95,460.01 585.82,458.85 604.55,457.45" fill="none" stroke="#fba722" stroke-width="1.0" stroke-linejoin="round" stroke-linecap="round"/>
<path d="M461.55 604.4L605.11 456.88" stroke="#20208c" stroke-width="1.15" stroke-dasharray="2.3 2.561" fill="none"/>
<g clip-path="url(#cp10)" stroke="#000" stroke-opacity="0.125" stroke-width="0.9" fill="none"><path d="M461.18 581.88H463.13"/><path d="M462.16 575.52V588.23"/><path d="M461.66 564.53H464.97"/><path d="M463.31 556.69V572.37"/><path d="M462.8 548.34H467.52"/><path d="M465.16 539.78V556.91"/><path d="M464.48 530.54H470.46"/><path d="M467.47 521.72V539.35"/><path d="M467.03 517.12H474.38"/><path d="M470.71 508.46V525.79"/><path d="M471.5 507.41H480.55"/><path d="M476.02 499.06V515.77"/><path d="M477.6 498.62H488.32"/><path d="M482.96 490.71V506.54"/><path d="M484.55 489.84H496.63"/><path d="M490.59 482.53V497.15"/><path d="M491.44 482.9H504.52"/><path d="M497.98 476.23V489.57"/><path d="M499.78 476.66H513.75"/><path d="M506.77 470.71V482.6"/><path d="M508.72 471.57H523.3"/><path d="M516.01 466.37V476.77"/><path d="M518.71 468.1H533.65"/><path d="M526.18 463.53V472.67"/><path d="M529.78 465.79H544.77"/><path d="M537.28 461.71V469.87"/><path d="M541.51 463.48H556.16"/><path d="M548.83 459.98V466.97"/><path d="M553.45 461.62H567.33"/><path d="M560.39 458.7V464.55"/><path d="M565.65 460.01H578.25"/><path d="M571.95 457.7V462.31"/><path d="M580.75 458.85H590.88"/><path d="M585.82 457.14V460.56"/></g>
<text class="tk" x="461.55" y="618" text-anchor="middle" textLength="9.1" lengthAdjust="spacingAndGlyphs">0.0</text><text class="tk" x="455.45" y="607.75" text-anchor="end" textLength="9.1" lengthAdjust="spacingAndGlyphs">0.0</text>
<text class="tk" x="490.15" y="618" text-anchor="middle" textLength="9.1" lengthAdjust="spacingAndGlyphs">0.2</text><text class="tk" x="455.45" y="578.36" text-anchor="end" textLength="9.1" lengthAdjust="spacingAndGlyphs">0.2</text>
<text class="tk" x="518.75" y="618" text-anchor="middle" textLength="9.1" lengthAdjust="spacingAndGlyphs">0.4</text><text class="tk" x="455.45" y="548.97" text-anchor="end" textLength="9.1" lengthAdjust="spacingAndGlyphs">0.4</text>
<text class="tk" x="547.35" y="618" text-anchor="middle" textLength="9.1" lengthAdjust="spacingAndGlyphs">0.6</text><text class="tk" x="455.45" y="519.58" text-anchor="end" textLength="9.1" lengthAdjust="spacingAndGlyphs">0.6</text>
<text class="tk" x="575.95" y="618" text-anchor="middle" textLength="9.1" lengthAdjust="spacingAndGlyphs">0.8</text><text class="tk" x="455.45" y="490.19" text-anchor="end" textLength="9.1" lengthAdjust="spacingAndGlyphs">0.8</text>
<text class="tk" x="604.55" y="618" text-anchor="middle" textLength="9.1" lengthAdjust="spacingAndGlyphs">1.0</text><text class="tk" x="455.45" y="460.8" text-anchor="end" textLength="9.1" lengthAdjust="spacingAndGlyphs">1.0</text>
<path d="M461.55 604.4v3.3M461.55 604.4h-3.3M490.15 604.4v3.3M461.55 575.01h-3.3M518.75 604.4v3.3M461.55 545.62h-3.3M547.35 604.4v3.3M461.55 516.23h-3.3M575.95 604.4v3.3M461.55 486.84h-3.3M604.55 604.4v3.3M461.55 457.45h-3.3" stroke="#6a6a6a" stroke-width="0.6" fill="none"/>
<text class="lb" x="532.95" y="627.6" text-anchor="middle" textLength="112.2" lengthAdjust="spacingAndGlyphs">False Positive Rate (1 - Specificity)</text>
<text class="lb" style="font-size:8.3px" transform="translate(437.95 531.07) rotate(-90)" text-anchor="middle" textLength="125.5" lengthAdjust="spacingAndGlyphs">True Positive Rate (Sensitivity)</text>
</g>
<g>
<text class="ti" x="641.85" y="448" textLength="12.65" lengthAdjust="spacingAndGlyphs">l.</text>
<text class="ti" x="666.27" y="448" textLength="55.29" lengthAdjust="spacingAndGlyphs">H&amp;N</text>
<clipPath id="cp11"><rect x="673.5" y="457.45" width="142.45" height="146.95"/></clipPath>
<clipPath id="cq11"><rect x="673.05" y="457" width="143.35" height="147.85"/></clipPath>
<rect x="673.5" y="457.45" width="142.45" height="146.95" fill="none" stroke="#6a6a6a" stroke-width="0.85"/>
<polyline clip-path="url(#cq11)" points="673.5,604.4 675.31,594.59 677.62,583.03 679.47,570.31 681.09,557.59 681.78,543.72 684.09,531.46 687.33,519.9 691.95,510.65 698.89,502.09 707.21,494 715.07,487.52 725.01,481.98 734.25,475.5 743.5,469.02 753.9,465.09 767.3,462.09 781.17,460.01 797.82,458.85 815.95,457.45" fill="none" stroke="#fba722" stroke-width="1.0" stroke-linejoin="round" stroke-linecap="round"/>
<path d="M673.5 604.4L816.51 456.88" stroke="#20208c" stroke-width="1.15" stroke-dasharray="2.3 2.551" fill="none"/>
<g clip-path="url(#cp11)" stroke="#000" stroke-opacity="0.125" stroke-width="0.9" fill="none"><path d="M670.84 594.59H679.78"/><path d="M675.31 585.06V604.13"/><path d="M670.94 583.03H684.31"/><path d="M677.62 569.56V596.5"/><path d="M671.48 570.31H687.47"/><path d="M679.47 554.19V586.44"/><path d="M672.13 557.59H690.05"/><path d="M681.09 539.79V575.39"/><path d="M672.45 543.72H691.12"/><path d="M681.78 524.91V562.53"/><path d="M673.63 531.46H694.56"/><path d="M684.09 512.36V550.57"/><path d="M675.52 519.9H699.14"/><path d="M687.33 501.01V538.79"/><path d="M678.56 510.65H705.35"/><path d="M691.95 492.29V529.01"/><path d="M683.62 502.09H714.15"/><path d="M698.89 484.52V519.67"/><path d="M690.26 494H724.16"/><path d="M707.21 477.48V510.52"/><path d="M696.94 487.52H733.2"/><path d="M715.07 472.11V502.94"/><path d="M705.84 481.98H744.17"/><path d="M725.01 467.73V496.22"/><path d="M714.53 475.5H753.98"/><path d="M734.25 462.96V488.04"/><path d="M723.56 469.02H763.44"/><path d="M743.5 458.73V479.32"/><path d="M734.12 465.09H773.68"/><path d="M753.9 456.61V473.58"/><path d="M748.39 462.09H786.22"/><path d="M767.3 455.41V468.77"/><path d="M764.04 460.01H798.31"/><path d="M781.17 455.01V465"/><path d="M784.52 458.85H811.11"/><path d="M797.82 455.14V462.56"/></g>
<text class="tk" x="673.5" y="618" text-anchor="middle" textLength="9.1" lengthAdjust="spacingAndGlyphs">0.0</text><text class="tk" x="667.4" y="607.75" text-anchor="end" textLength="9.1" lengthAdjust="spacingAndGlyphs">0.0</text>
<text class="tk" x="701.99" y="618" text-anchor="middle" textLength="9.1" lengthAdjust="spacingAndGlyphs">0.2</text><text class="tk" x="667.4" y="578.36" text-anchor="end" textLength="9.1" lengthAdjust="spacingAndGlyphs">0.2</text>
<text class="tk" x="730.48" y="618" text-anchor="middle" textLength="9.1" lengthAdjust="spacingAndGlyphs">0.4</text><text class="tk" x="667.4" y="548.97" text-anchor="end" textLength="9.1" lengthAdjust="spacingAndGlyphs">0.4</text>
<text class="tk" x="758.97" y="618" text-anchor="middle" textLength="9.1" lengthAdjust="spacingAndGlyphs">0.6</text><text class="tk" x="667.4" y="519.58" text-anchor="end" textLength="9.1" lengthAdjust="spacingAndGlyphs">0.6</text>
<text class="tk" x="787.46" y="618" text-anchor="middle" textLength="9.1" lengthAdjust="spacingAndGlyphs">0.8</text><text class="tk" x="667.4" y="490.19" text-anchor="end" textLength="9.1" lengthAdjust="spacingAndGlyphs">0.8</text>
<text class="tk" x="815.95" y="618" text-anchor="middle" textLength="9.1" lengthAdjust="spacingAndGlyphs">1.0</text><text class="tk" x="667.4" y="460.8" text-anchor="end" textLength="9.1" lengthAdjust="spacingAndGlyphs">1.0</text>
<path d="M673.5 604.4v3.3M673.5 604.4h-3.3M701.99 604.4v3.3M673.5 575.01h-3.3M730.48 604.4v3.3M673.5 545.62h-3.3M758.97 604.4v3.3M673.5 516.23h-3.3M787.46 604.4v3.3M673.5 486.84h-3.3M815.95 604.4v3.3M673.5 457.45h-3.3" stroke="#6a6a6a" stroke-width="0.6" fill="none"/>
<text class="lb" x="744.62" y="627.6" text-anchor="middle" textLength="112.2" lengthAdjust="spacingAndGlyphs">False Positive Rate (1 - Specificity)</text>
<text class="lb" style="font-size:8.3px" transform="translate(649.9 531.07) rotate(-90)" text-anchor="middle" textLength="125.5" lengthAdjust="spacingAndGlyphs">True Positive Rate (Sensitivity)</text>
</g>
</svg>
</body></html>
